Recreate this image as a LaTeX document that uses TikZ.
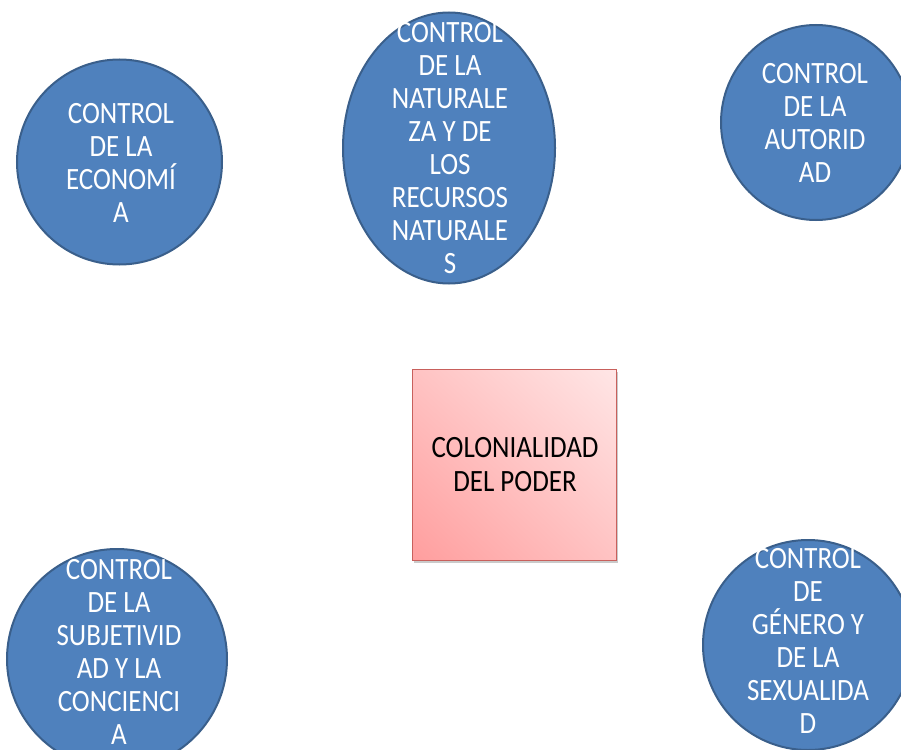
\documentclass[tikz,border=0pt]{standalone}
\usepackage{fontspec}
\setmainfont{Carlito}[FakeStretch=0.87]
\usetikzlibrary{shapes.geometric,shadows,shadings}
\definecolor{cfill}{HTML}{4F81BD}
\definecolor{cline}{HTML}{3A5F8B}
\definecolor{bline}{HTML}{C8605C}
\definecolor{bdark}{HTML}{FF9E9E}
\definecolor{blight}{HTML}{FFE6E6}
\definecolor{bmid}{HTML}{FFC3C3}
\tikzset{
  blob/.style={ellipse, draw=cline, fill=cfill, line width=2pt, inner sep=0pt},
  blobtext/.style={text=white, align=center, inner sep=0pt, font=\fontsize{31}{33}\selectfont},
  centerbox/.style={draw=bline, line width=1.5pt, inner sep=0pt,
    lower left=bdark, upper right=blight, upper left=bmid, lower right=bmid,
    drop shadow={shadow xshift=1.5pt, shadow yshift=-2.5pt, opacity=0.35, fill=black!60}},
  boxtext/.style={text=black, align=center, inner sep=0pt, font=\fontsize{31}{34}\selectfont}
}
\begin{document}
\begin{tikzpicture}[x=1pt,y=-1pt]
\useasboundingbox (0,0) rectangle (901,749);
% ellipses
\node[blob, minimum width=205pt, minimum height=205pt] (eco) at (119.5,162) {};
\node[blob, minimum width=212pt, minimum height=271pt] (nat) at (449,148) {};
\node[blob, minimum width=190pt, minimum height=195pt] (aut) at (816,122.5) {};
\node[blob, minimum width=220pt, minimum height=220pt] (sub) at (117,659) {};
\node[blob, minimum width=210pt, minimum height=210pt] (gen) at (808,645) {};
% texts
\node[blobtext] (ecot) at (121,162.5) {CONTROL\\DE LA\\ECONOMÍ\\A};
\node[blobtext] (natt) at (450,148) {CONTROL\\DE LA\\NATURALE\\ZA Y DE\\LOS\\RECURSOS\\NATURALE\\S};
\node[blobtext] (autt) at (815,123) {CONTROL\\DE LA\\AUTORID\\AD};
\node[blobtext] (subt) at (119,652) {CONTROL\\DE LA\\SUBJETIVID\\AD Y LA\\CONCIENCI\\A};
\node[blobtext] (gent) at (808,640.5) {CONTROL\\DE\\GÉNERO Y\\DE LA\\SEXUALIDA\\D};
% center box
\node[centerbox, minimum width=204pt, minimum height=191pt] (col) at (514.5,465) {};
\node[boxtext] (colt) at (515,465) {COLONIALIDAD\\DEL PODER};
\end{tikzpicture}
\end{document}
